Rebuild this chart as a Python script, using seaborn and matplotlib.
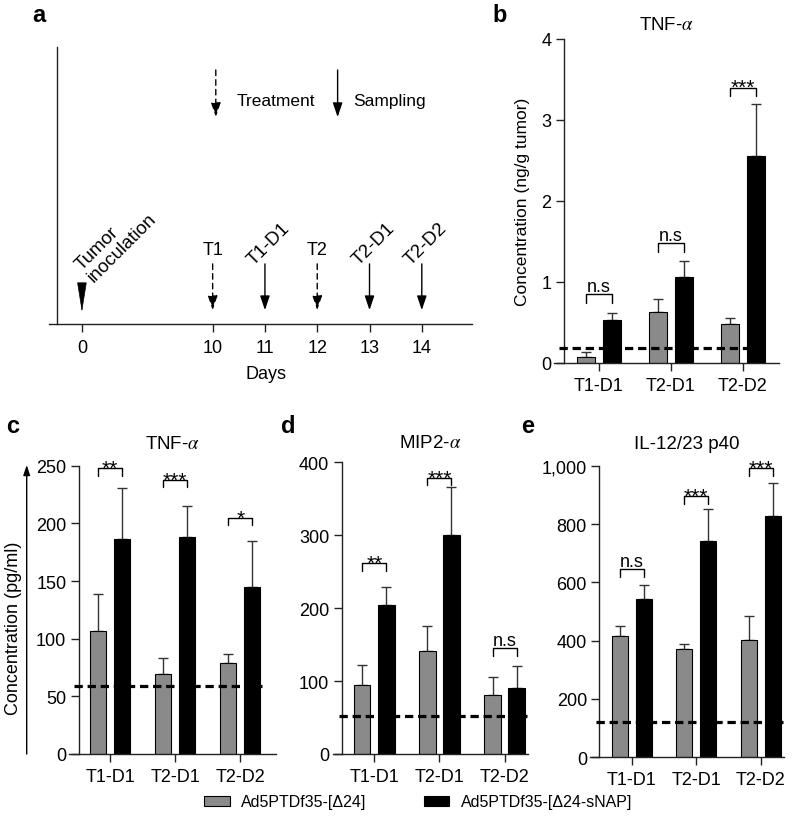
import numpy as np
import pandas as pd
import seaborn as sns
import matplotlib
matplotlib.use("Agg")
from matplotlib import pyplot as plt
from matplotlib.patches import Patch

# ---- panel a: timeline ----
days = [0, 10, 11, 12, 13, 14]
day_pos = [0, 2.5, 3.5, 4.5, 5.5, 6.5]          # axis is broken between 0 and 10
events = ['T1', 'T1-D1', 'T2', 'T2-D1', 'T2-D2']
event_days = [10, 11, 12, 13, 14]
event_kind = ['treat', 'sample', 'treat', 'sample', 'sample']

# ---- bar panels ----
groups = ['T1-D1', 'T2-D1', 'T2-D2']
viruses = ['Ad5PTDf35-[Δ24]', 'Ad5PTDf35-[Δ24-sNAP]']

# b: TNF-a, ng/g tumor
b_ctrl = [0.07, 0.63, 0.48]
b_ctrl_err = [0.07, 0.155, 0.08]
b_snap = [0.53, 1.06, 2.56]
b_snap_err = [0.085, 0.20, 0.64]
b_lod = 0.18
b_sig = ['n.s', 'n.s', '***']
b_sig_y = [0.85, 1.48, 3.40]

# c: TNF-a, pg/ml
c_ctrl = [107, 69, 79]
c_ctrl_err = [32, 14, 8]
c_snap = [186.5, 188, 145]
c_snap_err = [44, 27, 39.5]
c_lod = 59
c_sig = ['**', '***', '*']
c_sig_y = [247.8, 237.6, 204.7]

# d: MIP2-a
d_ctrl = [94.6, 141.7, 80.5]
d_ctrl_err = [28, 34, 24.5]
d_snap = [204.8, 300.8, 90]
d_snap_err = [24, 65, 30]
d_lod = 52.5
d_sig = ['**', '***', 'n.s']
d_sig_y = [261.6, 378.6, 145]

# e: IL-12/23 p40
e_ctrl = [414.7, 370, 401]
e_ctrl_err = [34, 20, 84]
e_snap = [541.7, 741.5, 828]
e_snap_err = [50, 110, 111]
e_lod = 122
e_sig = ['n.s', '***', '***']
e_sig_y = [645.5, 894.8, 990.8]

GRAY = '#8a8a8a'
palette = [GRAY, '#000000']

sns.set_theme(style="ticks")
plt.rcParams['font.family'] = ['Liberation Sans', 'DejaVu Sans']
plt.rcParams['mathtext.fontset'] = 'stix'
plt.rcParams['axes.linewidth'] = 1.0
plt.rcParams['axes.edgecolor'] = '#222222'
plt.rcParams['xtick.color'] = '#222222'
plt.rcParams['ytick.color'] = '#222222'
plt.rcParams['xtick.labelcolor'] = 'black'
plt.rcParams['ytick.labelcolor'] = 'black'
plt.rcParams['text.color'] = 'black'
plt.rcParams['axes.labelcolor'] = 'black'
plt.rcParams['axes.titlecolor'] = 'black'

W, H = 795, 820
fig = plt.figure(figsize=(W / 100, H / 100), dpi=100)


def box(x0, x1, y0, y1):
    # pixel box -> figure fraction
    return [x0 / W, 1 - y1 / H, (x1 - x0) / W, (y1 - y0) / H]


# ================= panel a =================
ax = fig.add_axes(box(49, 472, 48, 325))
ax.set_xlim(-0.63, 7.46)
ax.set_ylim(0, 1)
ax.spines['left'].set_position(('data', -0.48))
ax.spines['top'].set_visible(False)
ax.spines['right'].set_visible(False)
ax.set_yticks([])
ax.set_xticks(day_pos, [str(d) for d in days], fontsize=13)
ax.tick_params(axis='x', length=6, width=1, pad=5)
ax.set_xlabel('Days', fontsize=13)
ax.xaxis.set_label_coords(0.513, -0.148)

pos_of = dict(zip(days, day_pos))
head = 'head_length=0.86,head_width=0.29'
for name, d, kind in zip(events, event_days, event_kind):
    x = pos_of[d]
    ls = (0, (4, 3)) if kind == 'treat' else '-'
    ax.annotate('', xy=(x, 0.05), xytext=(x, 0.217),
                arrowprops=dict(arrowstyle='-|>,' + head, mutation_scale=10,
                                shrinkA=0, shrinkB=0, color='black', lw=1, linestyle=ls))
    if kind == 'treat':
        ax.text(x, 0.253, name, ha='center', va='baseline', fontsize=13)
    else:
        ax.text(x + 0.08, 0.29, name, ha='center', va='center', rotation=45, fontsize=13.5)

# tumor inoculation
ax.annotate('', xy=(pos_of[0], 0.043), xytext=(pos_of[0], 0.141),
            arrowprops=dict(arrowstyle='-|>,head_length=1.0,head_width=0.16', mutation_scale=19.5,
                            shrinkA=0, shrinkB=0, color='black', lw=0.5))
ax.text(0.22, 0.152, 'Tumor\ninoculation', ha='left', va='baseline', rotation=45,
        rotation_mode='anchor', multialignment='left', fontsize=13.5, linespacing=1.05)

# key
ax.annotate('', xy=(2.56, 0.747), xytext=(2.56, 0.917),
            arrowprops=dict(arrowstyle='-|>,' + head, mutation_scale=10, shrinkA=0, shrinkB=0,
                            color='black', lw=1, linestyle=(0, (4, 3))))
ax.text(2.96, 0.789, 'Treatment', ha='left', va='baseline', fontsize=12.5)
ax.annotate('', xy=(4.89, 0.747), xytext=(4.89, 0.917),
            arrowprops=dict(arrowstyle='-|>,' + head, mutation_scale=10, shrinkA=0, shrinkB=0,
                            color='black', lw=1))
ax.text(5.18, 0.789, 'Sampling', ha='left', va='baseline', fontsize=12.5)


# ================= bar panels =================
def bar_panel(rect, ctrl, ctrl_err, snap, snap_err, lod, sig, sig_y, ymax, step,
              xlim, spine_x, title, title_pad, yfmt=None):
    ax = fig.add_axes(rect)
    df = pd.DataFrame({'group': groups * 2,
                       'virus': [viruses[0]] * 3 + [viruses[1]] * 3,
                       'value': ctrl + snap})
    sns.barplot(data=df, x='group', y='value', hue='virus', order=groups, hue_order=viruses,
                palette=palette, width=0.74, gap=0.32, edgecolor='black', linewidth=0.8,
                errorbar=None, legend=False, ax=ax, zorder=2)
    centers = []
    for cont, errs in zip(ax.containers, [ctrl_err, snap_err]):
        xs = []
        for bar, e in zip(cont, errs):
            x = bar.get_x() + bar.get_width() / 2
            xs.append(x)
            ax.errorbar(x, bar.get_height(), yerr=[[0], [e]], fmt='none', ecolor='#333333',
                        elinewidth=1, capsize=3.5, capthick=1, zorder=1)
        centers.append(xs)
    right = max(b.get_x() + b.get_width() for b in ax.containers[1])
    ax.hlines(lod, -0.55, right + 0.03, colors='black', lw=2.3, linestyles=(0, (2.6, 1.5)), zorder=4)
    drop = 0.026 * ymax
    for i, (s, y) in enumerate(zip(sig, sig_y)):
        x1, x2 = centers[0][i], centers[1][i]
        ax.plot([x1, x1, x2, x2], [y - drop, y, y, y - drop], color='black', lw=1, clip_on=False)
        if s == 'n.s':
            ax.annotate(s, ((x1 + x2) / 2, y), xytext=(0, 2.5), textcoords='offset points',
                        ha='center', va='baseline', fontsize=13, annotation_clip=False)
        else:
            ax.annotate(s, ((x1 + x2) / 2, y), xytext=(0, -4), textcoords='offset points',
                        ha='center', va='baseline', fontsize=15, annotation_clip=False)
    ax.set_ylim(0, ymax)
    ax.set_xlim(*xlim)
    ax.set_yticks(np.arange(0, ymax + step / 2, step))
    if yfmt:
        ax.yaxis.set_major_formatter(yfmt)
    ax.spines['left'].set_position(('data', spine_x))
    ax.spines['top'].set_visible(False)
    ax.spines['right'].set_visible(False)
    ax.set_xlabel('')
    ax.set_ylabel('')
    ax.tick_params(axis='both', labelsize=13, length=6, width=1)
    ax.tick_params(axis='y', pad=3)
    ax.tick_params(axis='x', pad=4)
    ax.set_title(title, fontsize=13.5, pad=title_pad)
    return ax


ax_b = bar_panel(box(554, 779, 40, 364), b_ctrl, b_ctrl_err, b_snap, b_snap_err, b_lod,
                 b_sig, b_sig_y, 4, 1, (-0.625, 2.5), -0.486, 'TNF-$\\alpha$', 7)
ax_b.set_ylabel('Concentration (ng/g tumor)', fontsize=12.5, labelpad=8)

bar_panel(box(69, 276, 466.7, 755), c_ctrl, c_ctrl_err, c_snap, c_snap_err, c_lod,
          c_sig, c_sig_y, 250, 50, (-0.63, 2.55), -0.48, 'TNF-$\\alpha$', 13)
bar_panel(box(333, 528, 463.3, 755), d_ctrl, d_ctrl_err, d_snap, d_snap_err, d_lod,
          d_sig, d_sig_y, 400, 100, (-0.635, 2.36), -0.5, 'MIP2-$\\alpha$', 11)
bar_panel(box(590, 784, 466.7, 758.3), e_ctrl, e_ctrl_err, e_snap, e_snap_err, e_lod,
          e_sig, e_sig_y, 1000, 200, (-0.647, 2.36), -0.5, 'IL-12/23 p40', 13,
          yfmt=matplotlib.ticker.StrMethodFormatter('{x:,.0f}'))

# shared y label for c-e
fig.text(14 / W, 1 - 628 / H, 'Concentration (pg/ml)', rotation=90, ha='center', va='center',
         fontsize=13)
fig.add_artist(matplotlib.patches.FancyArrowPatch(
    (26.7 / W, 1 - 755 / H), (26.7 / W, 1 - 466 / H), transform=fig.transFigure,
    arrowstyle='-|>,head_length=0.6,head_width=0.2', mutation_scale=10, color='black', lw=1,
    shrinkA=0, shrinkB=0))

# panel letters
for letter, px, py in [('a', 38.5, 22.5), ('b', 500, 22.5), ('c', 13, 433), ('d', 288, 433), ('e', 528, 433)]:
    fig.text(px / W, 1 - py / H, letter, ha='center', va='baseline', fontsize=17, fontweight='bold')

handles = [Patch(facecolor=c, edgecolor='black', linewidth=0.8) for c in palette]
fig.legend(handles, viruses, loc='center', bbox_to_anchor=(418 / W, 1 - 803 / H), ncol=2,
           frameon=False, fontsize=11.5, handlelength=1.6, handleheight=0.65, handletextpad=0.7,
           columnspacing=3.6)

fig.savefig('out.png', dpi=100)
